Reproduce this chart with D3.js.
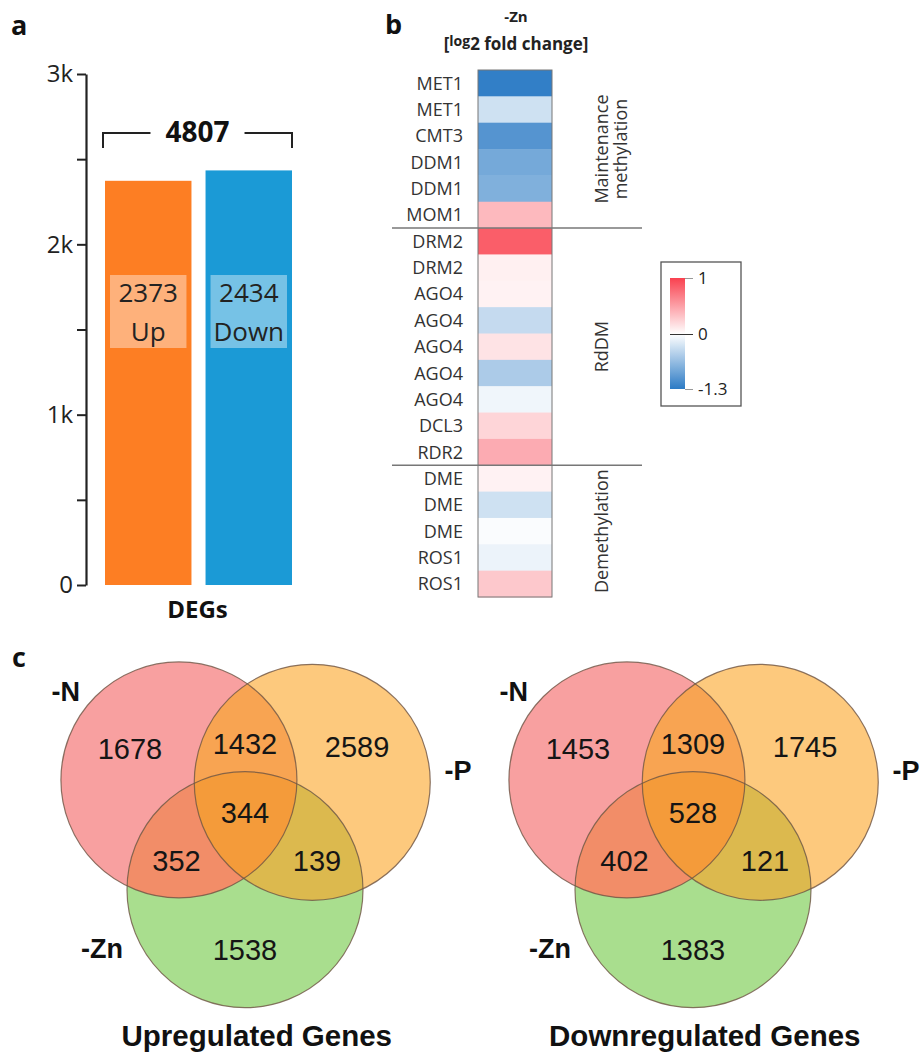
<!DOCTYPE html>
<html lang="en">
<head>
<meta charset="UTF-8">
<title>DEGs under -Zn, methylation genes and Venn diagrams</title>
<script src="https://d3js.org/d3.v7.min.js"></script>
<style>
  body { margin: 0; background: #fff; }
  text { font-family: "Open Sans", sans-serif; }
  .venn text { font-family: "Liberation Sans", Arial, sans-serif; }
</style>
</head>
<body>
<svg id="chart" width="922" height="1059"></svg>
<script>
// ---- panel a: number of DEGs
const barCats = ["Up", "Down"];
const barValues = [2373, 2434];
const barColors = ["#fd7e23", "#1b9ad6"];
const yTickValues = [0, 500, 1000, 1500, 2000, 2500, 3000];
const yTickLabels = {0: "0", 1000: "1k", 2000: "2k", 3000: "3k"};

// ---- panel b: log2 fold change of methylation genes
const genes = ["MET1", "MET1", "CMT3", "DDM1", "DDM1", "MOM1", "DRM2", "DRM2", "AGO4", "AGO4",
               "AGO4", "AGO4", "AGO4", "DCL3", "RDR2", "DME", "DME", "DME", "ROS1", "ROS1"];
const log2fc = [-1.26, -0.30, -1.05, -0.85, -0.78, 0.37, 0.85, 0.08, 0.07, -0.36,
                0.15, -0.51, -0.09, 0.22, 0.44, 0.07, -0.30, -0.03, -0.12, 0.29];
const groupNames = [["Maintenance", "methylation"], ["RdDM"], ["Demethylation"]];
const groupFirstRow = [0, 6, 15];
const groupLastRow = [5, 14, 19];
const legendTicks = [-1.3, 0, 1];

// ---- panel c: Venn counts, order N, P, Zn, N&P, N&Zn, P&Zn, N&P&Zn
const vennSets = ["-N", "-P", "-Zn"];
const upCounts = [1678, 2589, 1538, 1432, 352, 139, 344];
const downCounts = [1453, 1745, 1383, 1309, 402, 121, 528];
const vennTitles = ["Upregulated Genes", "Downregulated Genes"];

const svg = d3.select("#chart");

function panelLetter(t, x, y) {
    svg.append("text").attr("x", x).attr("y", y)
        .attr("font-size", 27).attr("font-weight", "bold").attr("fill", "#111").text(t);
}

// ================= panel a =================
panelLetter("a", 11, 35);
const a = svg.append("g");
const x = d3.scaleBand().domain(barCats).range([105, 292]).paddingInner(0.14);
const y = d3.scaleLinear().domain([0, 3000]).range([585, 74]);

a.append("g")
    .attr("transform", "translate(86,0)")
    .attr("font-family", "Open Sans")
    .call(d3.axisLeft(y).tickValues(yTickValues).tickSize(9).tickSizeOuter(0).tickPadding(4)
        .tickFormat(d => yTickLabels[d] || ""))
    .call(g => g.select(".domain").attr("stroke", "#222").attr("stroke-width", 2.2))
    .call(g => g.selectAll(".tick line").attr("stroke", "#222").attr("stroke-width", 2))
    .call(g => g.selectAll(".tick text").attr("font-size", 24).attr("fill", "#222"));

a.selectAll("rect.bar")
    .data(barValues)
    .enter().append("rect")
    .attr("class", "bar")
    .attr("x", (d, i) => x(barCats[i]))
    .attr("y", d => y(d))
    .attr("width", x.bandwidth())
    .attr("height", d => y(0) - y(d))
    .attr("fill", (d, i) => barColors[i]);

// light label boxes inside the bars
const boxes = a.selectAll("g.lbl").data(barValues).enter().append("g").attr("class", "lbl");
boxes.append("rect")
    .attr("x", (d, i) => x(barCats[i]) + 5)
    .attr("y", 275)
    .attr("width", x.bandwidth() - 10)
    .attr("height", 73)
    .attr("fill", "#fff").attr("opacity", 0.4);
boxes.append("text")
    .attr("x", (d, i) => x(barCats[i]) + x.bandwidth() / 2)
    .attr("y", 302).attr("text-anchor", "middle")
    .attr("font-size", 26).attr("fill", "#222")
    .text(d => d);
boxes.append("text")
    .attr("x", (d, i) => x(barCats[i]) + x.bandwidth() / 2)
    .attr("y", 341).attr("text-anchor", "middle")
    .attr("font-size", 26).attr("fill", "#222")
    .text((d, i) => barCats[i]);

// total bracket
const x0 = x(barCats[0]) - 2, x1 = x(barCats[1]) + x.bandwidth();
const xm = (x0 + x1) / 2;
const total = a.append("text")
    .attr("x", xm).attr("y", 142).attr("text-anchor", "middle")
    .attr("font-size", 28).attr("font-weight", "bold").attr("fill", "#111")
    .text(d3.sum(barValues));
const half = total.node().getComputedTextLength() / 2 + 15;
a.append("path")
    .attr("d", `M${x0},148V133H${xm - half}M${xm + half},133H${x1}V148`)
    .attr("fill", "none").attr("stroke", "#222").attr("stroke-width", 2);

a.append("text")
    .attr("x", xm).attr("y", 618).attr("text-anchor", "middle")
    .attr("font-size", 24).attr("font-weight", "bold").attr("fill", "#111")
    .text("DEGs");

// ================= panel b =================
panelLetter("b", 385, 34);
const b = svg.append("g");
const row = d3.scaleBand().domain(d3.range(genes.length)).range([70, 597]);
const colour = d3.scaleLinear().domain([-1.3, 0, 1]).range(["#2c7bc5", "#ffffff", "#f9414f"]);
const cellX = 478, cellW = 74;

b.append("text").attr("x", 516).attr("y", 22).attr("text-anchor", "middle")
    .attr("font-size", 15).attr("font-weight", "bold").attr("fill", "#222").text("-Zn");
const sub = b.append("text").attr("x", 516).attr("y", 50).attr("text-anchor", "middle")
    .attr("font-weight", "bold").attr("fill", "#222").attr("font-size", 17);
sub.append("tspan").text("[");
sub.append("tspan").attr("font-size", 14).attr("dy", -4).text("log");
sub.append("tspan").attr("dy", 4).text("2 fold change]");

b.selectAll("rect.cell")
    .data(log2fc)
    .enter().append("rect")
    .attr("class", "cell")
    .attr("x", cellX)
    .attr("y", (d, i) => row(i))
    .attr("width", cellW)
    .attr("height", row.bandwidth() + 0.5)
    .attr("fill", d => colour(d));
b.append("rect")
    .attr("x", cellX).attr("y", row(0))
    .attr("width", cellW).attr("height", row.bandwidth() * genes.length)
    .attr("fill", "none").attr("stroke", "#777").attr("stroke-width", 1);

b.selectAll("text.gene")
    .data(genes)
    .enter().append("text")
    .attr("class", "gene")
    .attr("x", 463)
    .attr("y", (d, i) => row(i) + row.bandwidth() / 2)
    .attr("dy", "0.36em")
    .attr("text-anchor", "end")
    .attr("font-size", 18).attr("fill", "#333")
    .text(d => d);

// group separators and group names
groupFirstRow.slice(1).forEach(r => {
    b.append("line")
        .attr("x1", 392).attr("x2", 642)
        .attr("y1", row(r)).attr("y2", row(r))
        .attr("stroke", "#777").attr("stroke-width", 1.5);
});
groupNames.forEach((lines, k) => {
    const cy = (row(groupFirstRow[k]) + row(groupLastRow[k]) + row.bandwidth()) / 2;
    lines.forEach((t, j) => {
        b.append("text")
            .attr("transform", `translate(${602 + j * 19},${cy}) rotate(-90)`)
            .attr("dy", "0.36em")
            .attr("text-anchor", "middle")
            .attr("font-size", 18).attr("fill", "#333")
            .text(t);
    });
});

// colour legend
const lg = svg.append("g");
const lgY = d3.scaleLinear().domain([-1.3, 0, 1]).range([389, 334, 278]);
const grad = svg.append("defs").append("linearGradient")
    .attr("id", "lfcGrad").attr("x1", 0).attr("y1", 1).attr("x2", 0).attr("y2", 0);
d3.range(-1.3, 1.0001, 0.1).forEach(v => {
    grad.append("stop")
        .attr("offset", (389 - lgY(v)) / (389 - 278))
        .attr("stop-color", colour(v));
});
lg.append("rect").attr("x", 661).attr("y", 262).attr("width", 80).attr("height", 144)
    .attr("fill", "none").attr("stroke", "#555").attr("stroke-width", 1.3);
lg.append("rect").attr("x", 670).attr("y", 278).attr("width", 15).attr("height", 111)
    .attr("fill", "url(#lfcGrad)");
lg.append("g")
    .attr("transform", "translate(685,0)")
    .attr("font-family", "Open Sans")
    .call(d3.axisRight(lgY).tickValues(legendTicks).tickSize(8).tickPadding(5)
        .tickFormat(d => String(d)))
    .call(g => g.select(".domain").remove())
    .call(g => g.selectAll(".tick line").attr("stroke", "#999"))
    .call(g => g.selectAll(".tick").filter(d => d === 0).select("line")
        .attr("x1", -15).attr("stroke", "#333"))
    .call(g => g.selectAll(".tick text").attr("font-size", 17).attr("fill", "#222"));

// ================= panel c =================
panelLetter("c", 12, 667);

const R = 118;
const circleUnits = [[-0.56, -0.28], [0.57, -0.26], [0, 0.65]];
const regionUnits = [[-0.975, -0.55], [0.95, -0.56], [0, 1.16], [0, -0.59], [-0.58, 0.4], [0.61, 0.4], [0, 0]];
const setLabelUnits = [[-1.64, -0.95], [1.69, -0.28], [-1.39, 1.23]];
const fills = { N: "#f8a0a0", P: "#fdc97d", Zn: "#a9de8e", NP: "#f8a452", NZn: "#f28d68", PZn: "#dcb94e", NPZn: "#f49b3a" };

function drawVenn(id, ox, oy, counts, title) {
    const vx = d3.scaleLinear().domain([0, 1]).range([ox, ox + R]);
    const vy = d3.scaleLinear().domain([0, 1]).range([oy, oy + R]);
    const g = svg.append("g").attr("class", "venn");
    const defs = g.append("defs");
    circleUnits.forEach((c, i) => {
        defs.append("clipPath").attr("id", `${id}-c${i}`)
            .append("circle").attr("cx", vx(c[0])).attr("cy", vy(c[1])).attr("r", R);
    });
    const circ = (sel, i) => sel.append("circle")
        .attr("cx", vx(circleUnits[i][0])).attr("cy", vy(circleUnits[i][1])).attr("r", R);

    // single sets
    circ(g, 0).attr("fill", fills.N);
    circ(g, 1).attr("fill", fills.P);
    circ(g, 2).attr("fill", fills.Zn);
    // pairwise overlaps
    circ(g.append("g").attr("clip-path", `url(#${id}-c0)`), 1).attr("fill", fills.NP);
    circ(g.append("g").attr("clip-path", `url(#${id}-c0)`), 2).attr("fill", fills.NZn);
    circ(g.append("g").attr("clip-path", `url(#${id}-c1)`), 2).attr("fill", fills.PZn);
    // triple overlap
    circ(g.append("g").attr("clip-path", `url(#${id}-c0)`)
        .append("g").attr("clip-path", `url(#${id}-c1)`), 2).attr("fill", fills.NPZn);
    // outlines
    [0, 1, 2].forEach(i => circ(g, i).attr("fill", "none")
        .attr("stroke", "#6e5443").attr("stroke-width", 1.2).attr("stroke-opacity", 0.8));

    g.selectAll("text.count")
        .data(counts)
        .enter().append("text")
        .attr("class", "count")
        .attr("x", (d, i) => vx(regionUnits[i][0]))
        .attr("y", (d, i) => vy(regionUnits[i][1]))
        .attr("dy", "0.36em")
        .attr("text-anchor", "middle")
        .attr("font-size", 29).attr("fill", "#151515")
        .text(d => d);

    g.selectAll("text.set")
        .data(vennSets)
        .enter().append("text")
        .attr("class", "set")
        .attr("x", (d, i) => vx(setLabelUnits[i][0]))
        .attr("y", (d, i) => vy(setLabelUnits[i][1]))
        .attr("font-size", 27).attr("font-weight", "bold").attr("fill", "#111")
        .text(d => d);

    g.append("text")
        .attr("x", vx(0.1)).attr("y", 1046)
        .attr("text-anchor", "middle")
        .attr("font-size", 29.5).attr("font-weight", "bold").attr("fill", "#111")
        .text(title);
}

drawVenn("up", 245, 813, upCounts, vennTitles[0]);
drawVenn("down", 693, 813, downCounts, vennTitles[1]);
</script>
</body>
</html>
